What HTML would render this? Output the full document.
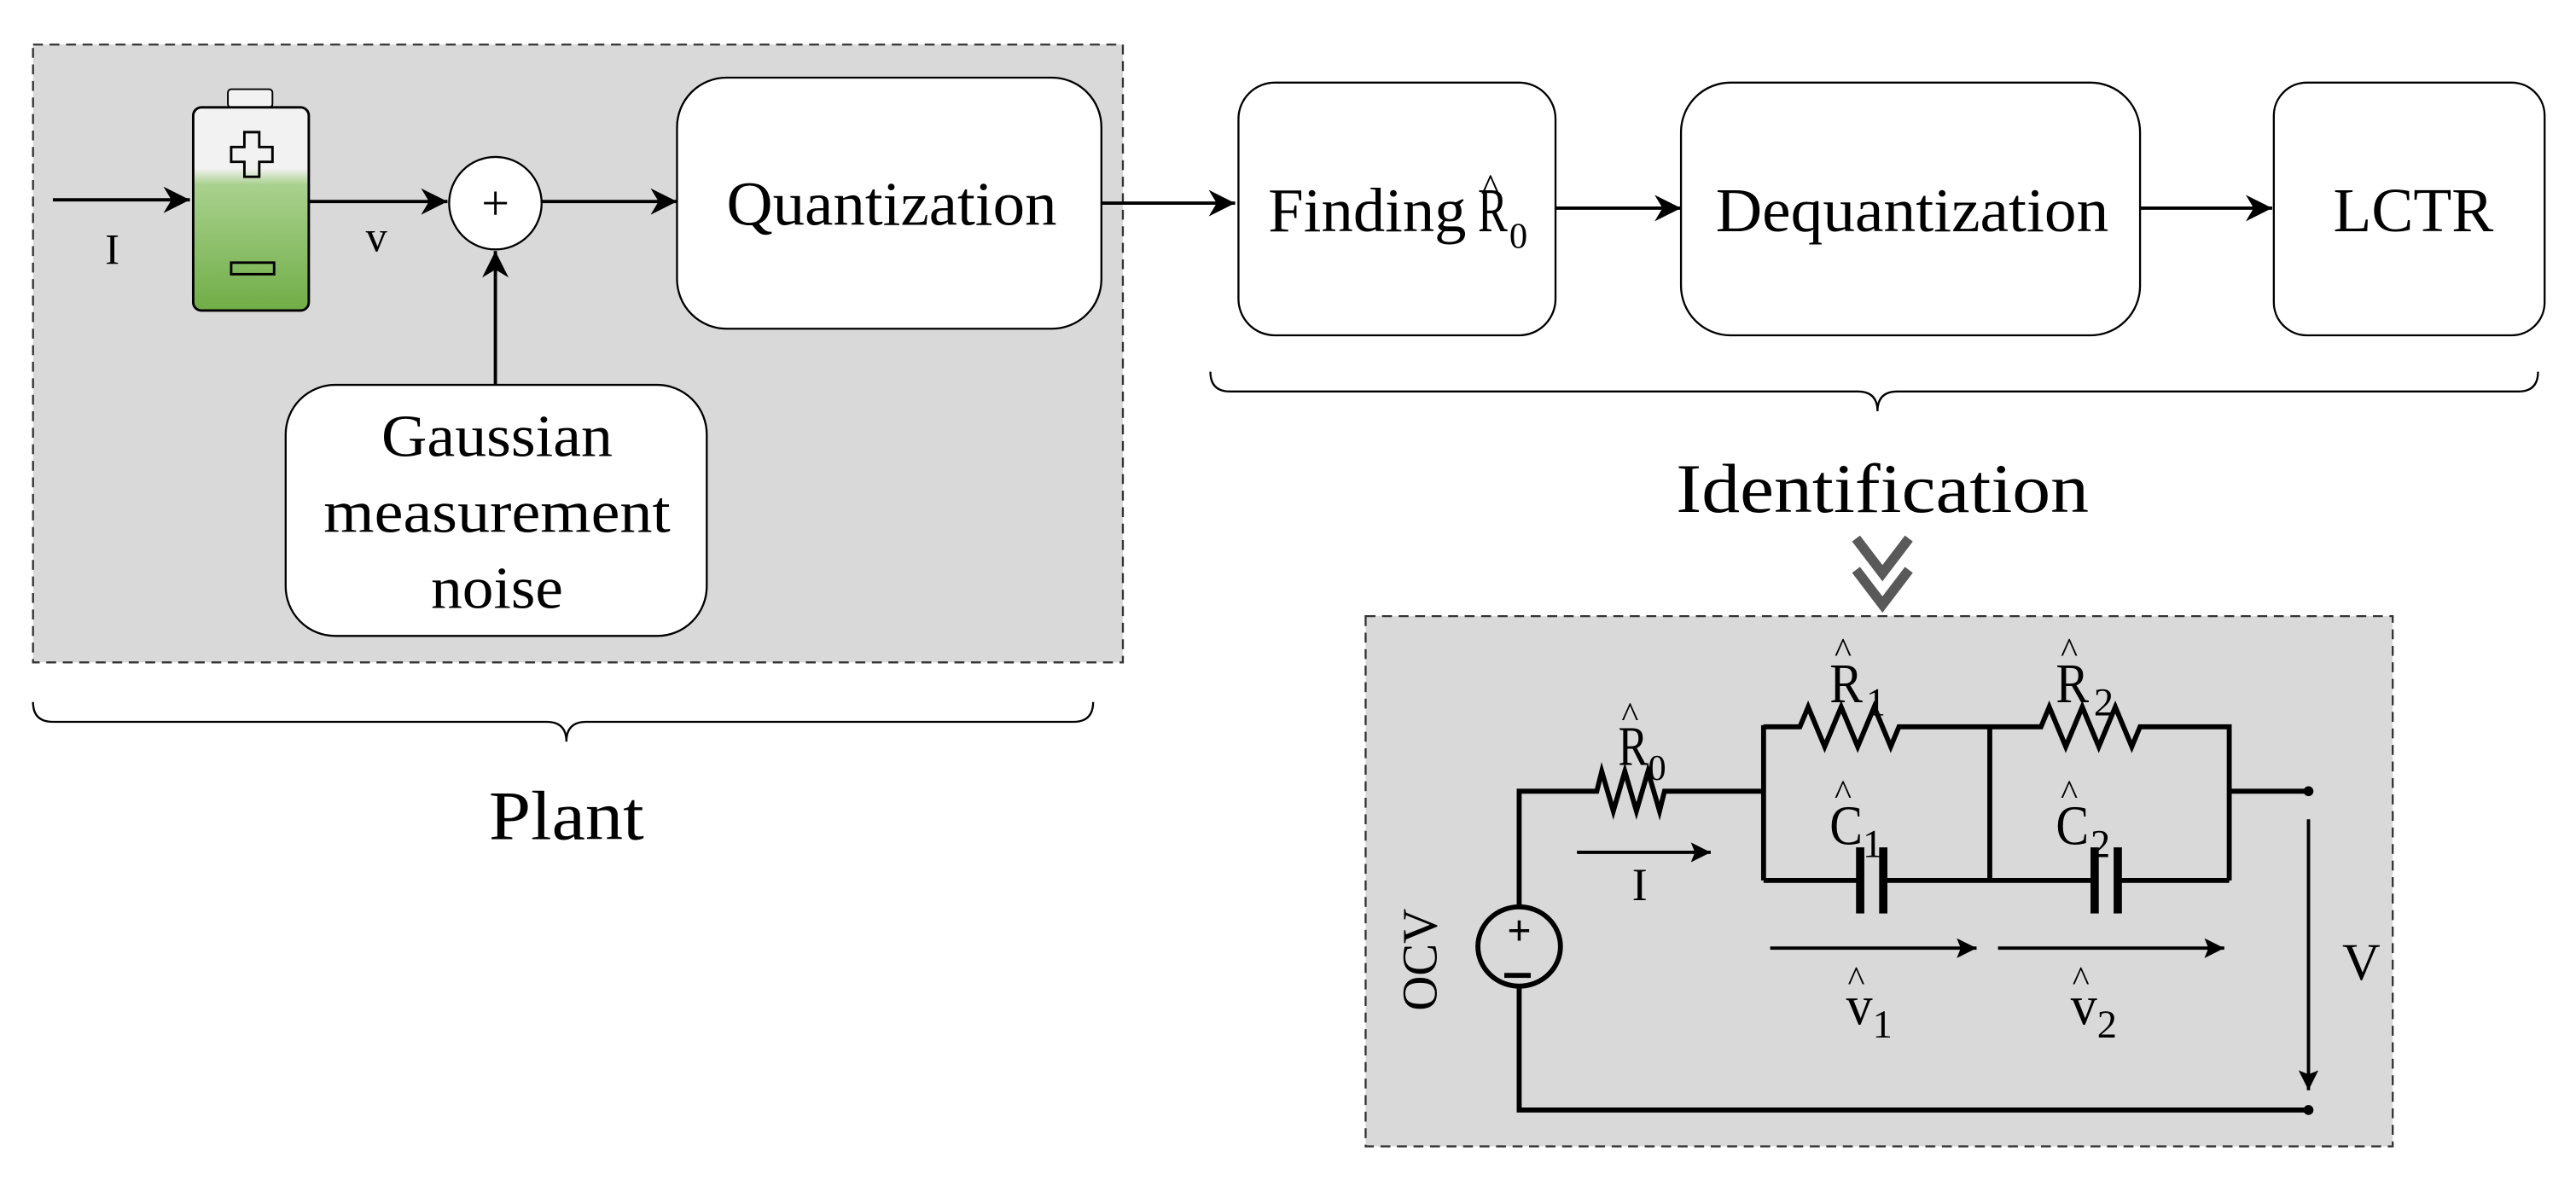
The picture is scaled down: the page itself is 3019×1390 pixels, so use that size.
<!DOCTYPE html>
<html><head><meta charset="utf-8"><style>
html,body{margin:0;padding:0;background:#fff;}
svg{display:block;}
text{font-family:"Liberation Serif","DejaVu Serif",serif;fill:#000;}
</style></head><body>
<svg width="3019" height="1390" viewBox="0 0 1560 718" preserveAspectRatio="none" xmlns="http://www.w3.org/2000/svg">
<defs>
<marker id="a" viewBox="0 0 10 10" refX="10" refY="5" markerWidth="14" markerHeight="12" orient="auto" markerUnits="userSpaceOnUse"><path d="M0,0 L10,5 L0,10 L2,5 z" fill="#000"/></marker>
<marker id="b" viewBox="0 0 10 10" refX="10" refY="5" markerWidth="8" markerHeight="8" orient="auto"><path d="M0,0 L10,5 L0,10 L3,5 z" fill="#000"/></marker>
<linearGradient id="g" x1="0" y1="0" x2="0" y2="1">
<stop offset="0" stop-color="#f2f2f2"/><stop offset="0.3" stop-color="#f2f2f2"/><stop offset="0.38" stop-color="#a9d18e"/><stop offset="1" stop-color="#70ad47"/></linearGradient>
</defs>

<rect x="20" y="27" width="660" height="374" fill="#d9d9d9" stroke="#333" stroke-width="1.2" stroke-dasharray="6,4"/>
<line x1="32" y1="121" x2="115" y2="121" stroke="#000" stroke-width="2" marker-end="url(#b)"/>
<text x="68" y="160" font-size="26" text-anchor="middle">I</text>
<rect x="138" y="54" width="27" height="11" rx="2" fill="#f2f2f2" stroke="#000" stroke-width="1"/>
<rect x="117" y="65" width="70" height="123" rx="5" fill="url(#g)" stroke="#000" stroke-width="1.5"/>
<path d="M148,80 h9 v9 h8 v9 h-8 v9 h-9 v-9 h-8 v-9 h8 z" fill="none" stroke="#000" stroke-width="1.5"/>
<rect x="140" y="159" width="26" height="7" fill="none" stroke="#000" stroke-width="1.5"/>
<line x1="187" y1="122" x2="271" y2="122" stroke="#000" stroke-width="2" marker-end="url(#b)"/>
<text x="228" y="152" font-size="26" text-anchor="middle">v</text>
<circle cx="300" cy="123" r="28" fill="#fff" stroke="#000" stroke-width="1.2"/>
<text x="300" y="133" font-size="30" text-anchor="middle">+</text>
<line x1="328" y1="122" x2="410" y2="122" stroke="#000" stroke-width="2" marker-end="url(#b)"/>
<line x1="300" y1="233" x2="300" y2="152" stroke="#000" stroke-width="2" marker-end="url(#b)"/>
<rect x="410" y="47" width="257" height="152" rx="30" fill="#fff" stroke="#000" stroke-width="1.2"/>
<text x="440" y="136" font-size="38" textLength="200" lengthAdjust="spacingAndGlyphs">Quantization</text>
<rect x="173" y="233" width="255" height="152" rx="30" fill="#fff" stroke="#000" stroke-width="1.2"/>
<text x="301" y="276" font-size="36" text-anchor="middle" textLength="140" lengthAdjust="spacingAndGlyphs">Gaussian</text>
<text x="301" y="322" font-size="36" text-anchor="middle" textLength="210" lengthAdjust="spacingAndGlyphs">measurement</text>
<text x="301" y="368" font-size="36" text-anchor="middle" textLength="80" lengthAdjust="spacingAndGlyphs">noise</text>
<path d="M20,425 q0,12 12,12 h299 q12,0 12,12 q0,-12 12,-12 h295 q12,0 12,-12" fill="none" stroke="#000" stroke-width="1.2"/>
<text x="343" y="508" font-size="42" text-anchor="middle" textLength="94" lengthAdjust="spacingAndGlyphs">Plant</text>

<line x1="667" y1="123" x2="748" y2="123" stroke="#000" stroke-width="2" marker-end="url(#b)"/>
<rect x="750" y="50" width="192" height="153" rx="22" fill="#fff" stroke="#000" stroke-width="1.2"/>
<text x="768" y="140" font-size="38" textLength="120" lengthAdjust="spacingAndGlyphs">Finding</text>
<text x="895" y="140" font-size="38" textLength="18" lengthAdjust="spacingAndGlyphs">R</text>
<text x="897" y="122" font-size="24">^</text>
<text x="914" y="150" font-size="22">0</text>
<line x1="942" y1="126" x2="1018" y2="126" stroke="#000" stroke-width="2" marker-end="url(#b)"/>
<rect x="1018" y="50" width="278" height="153" rx="30" fill="#fff" stroke="#000" stroke-width="1.2"/>
<text x="1039" y="140" font-size="38" textLength="238" lengthAdjust="spacingAndGlyphs">Dequantization</text>
<line x1="1296" y1="126" x2="1376" y2="126" stroke="#000" stroke-width="2" marker-end="url(#b)"/>
<rect x="1377" y="50" width="164" height="153" rx="20" fill="#fff" stroke="#000" stroke-width="1.2"/>
<text x="1413" y="140" font-size="38" textLength="97" lengthAdjust="spacingAndGlyphs">LCTR</text>
<path d="M733,225 q0,12 12,12 h380 q12,0 12,12 q0,-12 12,-12 h376 q12,0 12,-12" fill="none" stroke="#000" stroke-width="1.2"/>
<text x="1140" y="310" font-size="42" textLength="250" lengthAdjust="spacingAndGlyphs" text-anchor="middle">Identification</text>
<path d="M1124,326 L1140,347 L1156,326 M1124,345 L1140,366 L1156,345" fill="none" stroke="#595959" stroke-width="6"/>

<rect x="827" y="373" width="622" height="321" fill="#d9d9d9" stroke="#333" stroke-width="1.2" stroke-dasharray="6,4"/>
<g fill="none" stroke="#000" stroke-width="3">
<path d="M920,549 V479 H967 l3,-12 l7,24 l7,-24 l7,24 l7,-24 l7,24 l3,-12 H1068"/>
<path d="M1068,439 V533"/>
<path d="M1068,440 H1090 l5,-12 l10,24 l10,-24 l10,24 l10,-24 l10,24 l5,-12 H1236 l5,-12 l10,24 l10,-24 l10,24 l10,-24 l10,24 l5,-12 H1350 V533"/>
<path d="M1205,440 V533"/>
<path d="M1068,533 H1126 M1142,533 H1266 M1282,533 H1350"/>
<path d="M1350,479 H1396"/>
<path d="M920,597 V672 H1397"/>
</g>
<g fill="#000">
<rect x="1124" y="513" width="5" height="40"/><rect x="1138" y="513" width="5" height="40"/>
<rect x="1266" y="513" width="5" height="40"/><rect x="1280" y="513" width="5" height="40"/>
<circle cx="1398" cy="479" r="3"/><circle cx="1398" cy="672" r="3"/>
</g>
<ellipse cx="920" cy="573" rx="25" ry="24" fill="none" stroke="#000" stroke-width="3"/>
<text x="920" y="572" font-size="26" font-family="Liberation Sans" text-anchor="middle" font-weight="bold">+</text>
<rect x="911" y="589" width="16" height="3" fill="#000"/>
<text x="0" y="0" font-size="30" transform="translate(870,612) rotate(-90)" textLength="62" lengthAdjust="spacingAndGlyphs">OCV</text>
<line x1="955" y1="516" x2="1036" y2="516" stroke="#000" stroke-width="2" marker-end="url(#a)"/>
<text x="993" y="545" font-size="28" text-anchor="middle">I</text>
<line x1="1072" y1="574" x2="1197" y2="574" stroke="#000" stroke-width="2" marker-end="url(#a)"/>
<line x1="1210" y1="574" x2="1347" y2="574" stroke="#000" stroke-width="2" marker-end="url(#a)"/>
<line x1="1398" y1="496" x2="1398" y2="660" stroke="#000" stroke-width="2" marker-end="url(#a)"/>
<text x="1430" y="593" font-size="32" text-anchor="middle">V</text>
<g font-size="34">
<text x="980" y="463" textLength="18" lengthAdjust="spacingAndGlyphs">R</text><text x="982" y="440" font-size="22">^</text><text x="998" y="472" font-size="22">0</text>
<text x="1108" y="425" textLength="20" lengthAdjust="spacingAndGlyphs">R</text><text x="1111" y="401" font-size="22">^</text><text x="1130" y="433" font-size="24">1</text>
<text x="1245" y="425" textLength="20" lengthAdjust="spacingAndGlyphs">R</text><text x="1248" y="401" font-size="22">^</text><text x="1268" y="433" font-size="24">2</text>
<text x="1108" y="511" textLength="20" lengthAdjust="spacingAndGlyphs">C</text><text x="1111" y="487" font-size="22">^</text><text x="1128" y="519" font-size="24">1</text>
<text x="1245" y="511" textLength="20" lengthAdjust="spacingAndGlyphs">C</text><text x="1248" y="487" font-size="22">^</text><text x="1266" y="519" font-size="24">2</text>
<text x="1118" y="620" textLength="16" lengthAdjust="spacingAndGlyphs">v</text><text x="1119" y="600" font-size="22">^</text><text x="1134" y="628" font-size="24">1</text>
<text x="1254" y="620" textLength="16" lengthAdjust="spacingAndGlyphs">v</text><text x="1255" y="600" font-size="22">^</text><text x="1270" y="628" font-size="24">2</text>
</g>
</svg>
</body></html>
